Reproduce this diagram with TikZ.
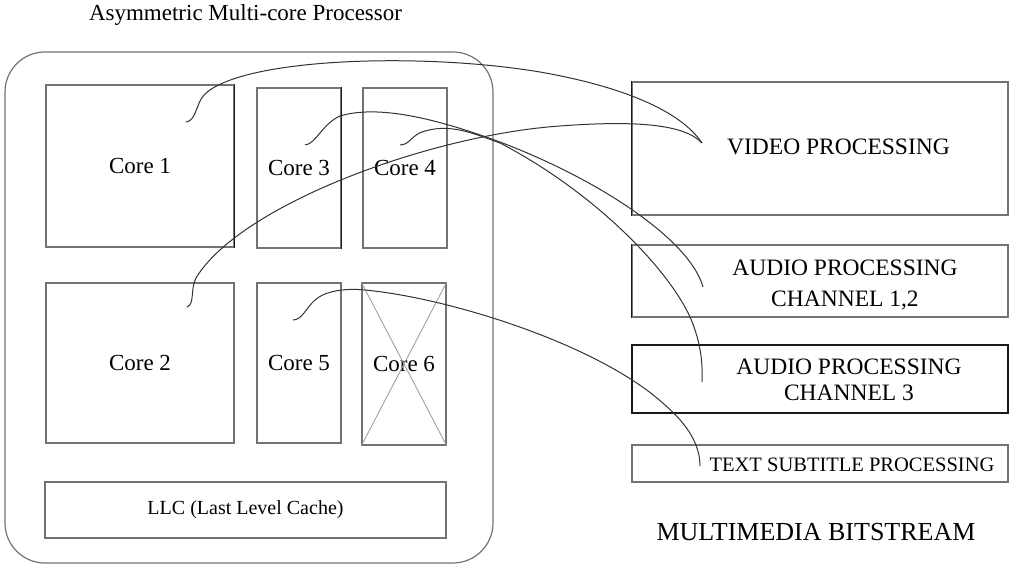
\documentclass[tikz,border=0pt]{standalone}
\usepackage{fontspec}
\setmainfont{Liberation Serif}
\begin{document}
\begin{tikzpicture}[x=1pt,y=-1pt,
  unitbox/.style={draw=black!55, line width=1.2pt, rectangle, inner sep=0pt},
  darkedge/.style={draw=black!90, line width=1.2pt},
  link/.style={draw=black!80, line width=1pt},
  crossline/.style={draw=black!40, line width=0.8pt},
  corelbl/.style={font=\fontsize{23}{27}\selectfont},
  streamlbl/.style={font=\fontsize{23.5}{28}\selectfont, inner sep=0pt}]
\useasboundingbox (0,0) rectangle (1010,564);

% processor outline and title
\node[font=\fontsize{23}{27}\selectfont, anchor=base] (title) at (245.5,21) {Asymmetric Multi-core Processor};
\draw[draw=black!55, line width=1.2pt, rounded corners=40pt] (5,52) rectangle (493,563);

% cores
\node[unitbox, corelbl, minimum width=188, minimum height=162] (core1) at (140,166) {Core 1};
\node[unitbox, corelbl, minimum width=84, minimum height=160] (core3) at (299,168) {Core 3};
\node[unitbox, corelbl, minimum width=84, minimum height=160] (core4) at (405,168) {Core 4};
\node[unitbox, corelbl, minimum width=188, minimum height=160] (core2) at (140,363) {Core 2};
\node[unitbox, corelbl, minimum width=84, minimum height=160] (core5) at (299,363) {Core 5};
\node[unitbox, corelbl, minimum width=84, minimum height=162] (core6) at (404,364) {Core 6};
\draw[crossline] (core6.north west) -- (core6.south east);
\draw[crossline] (core6.north east) -- (core6.south west);
\draw[darkedge] (core1.north east) -- (core1.south east);
\draw[darkedge] (core3.north east) -- (core3.south east);

% last level cache
\node[unitbox, font=\fontsize{20}{24}\selectfont, minimum width=401, minimum height=56] (llc) at (245.5,510) {LLC (Last Level Cache)};

% multimedia bitstream parts
\node[unitbox, minimum width=376, minimum height=133] (video) at (820,148.5) {};
\node[unitbox, minimum width=376, minimum height=72] (audioA) at (820,281) {};
\node[unitbox, draw=black!90, minimum width=376, minimum height=68] (audioB) at (820,379) {};
\node[unitbox, minimum width=376, minimum height=37] (subtitle) at (820,463.5) {};
\draw[darkedge] (video.north west) -- (video.south west);
\draw[darkedge] (audioA.north west) -- (audioA.south west);

\node[streamlbl] (videolbl) at (838.5,147) {VIDEO PROCESSING};
\node[streamlbl, align=center, font=\fontsize{23.5}{31.5}\selectfont] (audioAlbl) at (845,285) {AUDIO PROCESSING\\CHANNEL 1,2};
\node[streamlbl, align=center, font=\fontsize{23.5}{26}\selectfont] (audioBlbl) at (849,380) {AUDIO PROCESSING\\CHANNEL 3};
\node[streamlbl, font=\fontsize{20.5}{24}\selectfont] (subtitlelbl) at (852,465) {TEXT SUBTITLE PROCESSING};
\node[font=\fontsize{26}{30}\selectfont, inner sep=0pt] (streamtitle) at (816,532) {MULTIMEDIA BITSTREAM};

% task-to-core assignment
\coordinate (s1) at (186,122);
\coordinate (s2) at (187,307);
\coordinate (s3) at (305,145);
\coordinate (s4) at (400,145);
\coordinate (s5) at (293,320);
\coordinate (eV) at (702,143);
\coordinate (eA) at (703,287);
\coordinate (eB) at (702,382);
\coordinate (eT) at (700,466);

\draw[link] (s1) .. controls (196,121) and (196,104) .. (204,95)
  .. controls (240,58) and (420,52) .. (540,72)
  .. controls (620,86) and (680,110) .. (eV);
\draw[link] (s2) .. controls (195,304) and (190,290) .. (196,278)
  .. controls (240,205) and (430,135) .. (560,126)
  .. controls (640,120) and (685,125) .. (eV);
\draw[link] (s3) .. controls (316,144) and (322,124) .. (340,116)
  .. controls (380,104) and (440,120) .. (500,142)
  .. controls (600,180) and (690,240) .. (eA);
\draw[link] (s4) .. controls (410,145) and (412,134) .. (425,131)
  .. controls (450,124) and (470,132) .. (500,143)
  .. controls (600,195) and (680,280) .. (695,330)
  .. controls (700,345) and (703,362) .. (eB);
\draw[link] (s5) .. controls (302,320) and (306,308) .. (315,300)
  .. controls (325,291) and (345,288) .. (365,290)
  .. controls (450,298) and (600,345) .. (665,405)
  .. controls (688,425) and (700,445) .. (eT);
\end{tikzpicture}
\end{document}
